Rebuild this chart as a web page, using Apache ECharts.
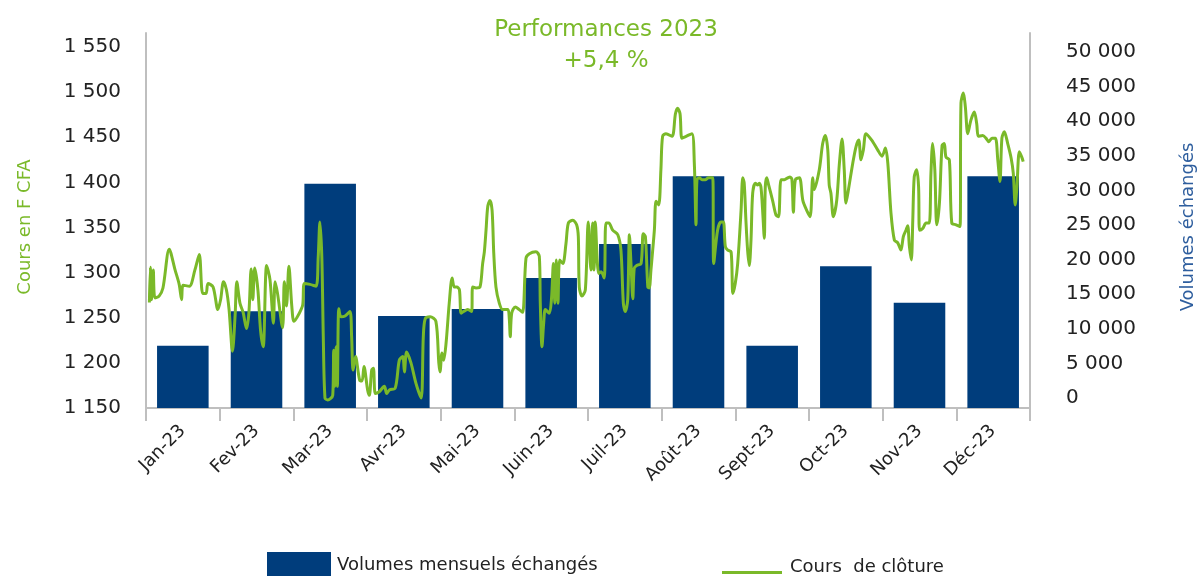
<!DOCTYPE html>
<html lang="fr">
<head>
<meta charset="utf-8">
<title>Performances 2023</title>
<script src="https://cdn.jsdelivr.net/npm/echarts@6/dist/echarts.min.js"></script>
<style>
  html, body { margin: 0; padding: 0; background: #ffffff; }
  #chart { width: 1204px; height: 576px; }
</style>
</head>
<body>
<div id="chart"></div>
<script>
// Mois de l'année (axe des catégories)
const mois = ['Jan-23', 'Fev-23', 'Mar-23', 'Avr-23', 'Mai-23', 'Juin-23',
              'Juil-23', 'Août-23', 'Sept-23', 'Oct-23', 'Nov-23', 'Déc-23'];

// Volumes mensuels échangés (titres)
const volumes = [9000, 14000, 32400, 13300, 14300, 18800,
                 23700, 33500, 9000, 20500, 15200, 33500];

// Graduations des deux axes verticaux
const ticksCours = [1150, 1200, 1250, 1300, 1350, 1400, 1450, 1500, 1550];
const ticksVolumes = [0, 5000, 10000, 15000, 20000, 25000, 30000, 35000, 40000, 45000, 50000];

// Cours de clôture : jour de l'année 2023 et cours en F CFA
const jours = [
  1.4, 1.8, 2.3, 3.0, 3.7, 5.4, 7.0, 9.6, 12.0, 13.7, 14.7, 15.3, 17.9, 20.2, 22.0, 23.4, 24.8, 25.6, 27.7, 29.7,
  30.8, 32.0, 33.2, 34.3, 35.7, 36.8, 37.5, 38.8, 40.1, 41.5, 42.5, 43.4, 44.1, 44.9, 46.2, 47.3, 48.4, 49.8, 51.2, 52.6, 53.3, 54.3, 56.4, 57.1, 58.0, 59.0, 60.2, 61.1,
  63.3, 64.7, 65.4, 67.7, 70.2, 71.1, 71.8, 72.6, 73.2, 73.9, 75.0, 77.1, 77.5, 78.0, 78.5, 79.0, 79.6, 80.5, 82.2, 84.2, 84.9, 85.5, 86.5, 88.2, 89.2, 90.0,
  91.5, 92.2, 93.2, 93.9, 94.7, 96.3, 98.4, 99.4, 100.5, 102.9, 104.6, 106.0, 106.7, 107.6, 109.4, 111.5, 113.6, 114.5, 115.3, 117.3, 119.7,
  120.9, 121.4, 122.2, 122.9, 123.9, 125.2, 126.4, 127.3, 128.3, 129.4, 130.1, 131.2, 132.8, 134.4, 134.9, 136.3, 137.9, 139.0, 139.7, 140.4, 141.1, 142.0, 142.9, 143.6, 144.5, 145.9, 147.3, 149.4, 150.0, 150.4, 151.0,
  152.5, 154.1, 155.5, 156.9, 158.3, 161.0, 162.4, 162.8, 163.5, 164.2, 164.9, 166.5, 167.4, 168.2, 168.8, 169.4, 170.1, 170.8, 172.1, 173.4, 174.4, 176.2, 177.8, 178.5, 178.9, 180.0, 181.4, 182.6,
  183.7, 184.4, 185.0, 185.5, 186.9, 187.9, 189.2, 189.9, 191.1, 192.7, 194.8, 196.1, 197.1, 197.9, 198.9, 199.6, 200.3, 201.0, 201.6, 202.6, 204.4, 205.3, 206.2, 207.2, 207.8, 208.5, 209.9, 210.6, 211.7, 212.6,
  213.3, 214.7, 217.2, 218.6, 219.5, 220.5, 221.3, 223.0, 225.4, 226.4, 227.1, 227.5, 228.5, 229.6, 230.9, 232.3, 234.0, 234.4, 236.0, 237.4, 238.4, 239.2, 240.2, 241.6, 242.3,
  243.3, 244.3, 245.7, 246.4, 247.0, 247.7, 248.4, 249.1, 249.8, 250.5, 251.6, 252.6, 253.2, 253.9, 254.6, 255.3, 255.7, 256.3, 257.1, 258.8, 260.1, 261.2, 262.2, 263.6, 265.0, 265.9, 266.7, 267.3, 268.1, 269.8, 271.2, 272.8,
  274.2, 275.3, 275.9, 278.0, 279.4, 280.5, 281.5, 282.1, 282.8, 283.8, 285.2, 286.3, 287.4, 288.3, 289.0, 290.1, 291.8, 293.2, 294.3, 295.2, 296.2, 297.3, 300.1, 302.1, 303.9,
  305.3, 306.3, 307.6, 309.0, 310.4, 311.7, 312.7, 313.8, 314.5, 315.2, 316.0, 316.6, 317.2, 318.2, 319.0, 319.4, 320.7, 322.1, 323.4, 324.1, 324.8, 325.7, 326.5, 327.6, 328.7, 329.6, 330.3, 331.7, 332.7, 334.5,
  336.1, 336.5, 337.5, 338.3, 339.3, 340.6, 342.0, 343.0, 343.7, 345.5, 346.8, 348.0, 349.3, 350.7, 351.7, 352.6, 353.4, 354.4, 355.8, 357.2, 358.1, 358.9, 359.6, 360.6, 361.6, 362.2
];
const cours = [
  1267, 1306, 1270, 1303, 1272, 1274, 1283, 1326, 1303, 1287, 1270, 1286, 1285, 1303, 1320, 1277, 1277, 1288, 1284, 1259,
  1270, 1290, 1281, 1259, 1213, 1253, 1290, 1266, 1256, 1238, 1256, 1304, 1270, 1305, 1281, 1236, 1218, 1308, 1292, 1244, 1290, 1277, 1239, 1290, 1263, 1307, 1263, 1246,
  1255, 1264, 1288, 1287, 1285, 1317, 1356, 1317, 1229, 1161, 1159, 1164, 1214, 1174, 1218, 1174, 1260, 1251, 1252, 1257, 1229, 1192, 1207, 1181, 1180, 1196,
  1170, 1164, 1192, 1194, 1166, 1168, 1174, 1166, 1170, 1172, 1203, 1207, 1190, 1212, 1200, 1177, 1161, 1229, 1249, 1251, 1246,
  1200, 1190, 1211, 1203, 1222, 1266, 1294, 1284, 1284, 1281, 1255, 1257, 1259, 1257, 1284, 1283, 1284, 1310, 1323, 1347, 1373, 1380, 1369, 1321, 1284, 1266, 1259, 1259, 1249, 1229, 1255,
  1262, 1259, 1256, 1316, 1321, 1323, 1318, 1266, 1218, 1244, 1259, 1255, 1270, 1310, 1266, 1314, 1266, 1314, 1310, 1332, 1355, 1358, 1353, 1340, 1284, 1274, 1281, 1356,
  1303, 1355, 1303, 1356, 1299, 1301, 1294, 1355, 1355, 1347, 1342, 1325, 1266, 1257, 1270, 1342, 1307, 1271, 1305, 1308, 1310, 1343, 1340, 1284, 1283, 1303, 1347, 1379, 1375, 1414,
  1451, 1454, 1451, 1476, 1482, 1476, 1449, 1451, 1454, 1421, 1353, 1403, 1405, 1403, 1403, 1405, 1405, 1310, 1347, 1356, 1356, 1329, 1325, 1323, 1277,
  1288, 1310, 1369, 1405, 1399, 1358, 1325, 1308, 1336, 1388, 1399, 1397, 1399, 1395, 1369, 1338, 1395, 1405, 1397, 1379, 1364, 1362, 1403, 1403, 1405, 1406, 1403, 1367, 1403, 1405, 1380, 1369,
  1362, 1405, 1392, 1414, 1443, 1452, 1436, 1397, 1388, 1362, 1380, 1421, 1448, 1414, 1377, 1393, 1421, 1440, 1447, 1425, 1436, 1454, 1445, 1436, 1429,
  1438, 1421, 1366, 1336, 1333, 1325, 1340, 1347, 1352, 1329, 1314, 1358, 1406, 1414, 1395, 1347, 1349, 1355, 1355, 1410, 1443, 1414, 1353, 1377, 1441, 1443, 1428, 1425, 1355, 1353,
  1351, 1488, 1499, 1484, 1454, 1469, 1478, 1465, 1451, 1452, 1449, 1445, 1449, 1449, 1425, 1401, 1449, 1456, 1443, 1427, 1410, 1375, 1395, 1434, 1428, 1423
];

const FONT = 'DejaVu Sans';
const VERT = '#7AB929';
const BLEU = '#003D7C';
const GRIS = '#BFBFBF';
const TEXTE = '#222222';

// 1550 -> "1 550"
function milliers(v) {
  return String(v).replace(/\B(?=(\d{3})+(?!\d))/g, ' ');
}

const chart = echarts.init(document.getElementById('chart'), null, { renderer: 'canvas' });

chart.setOption({
  animation: false,
  backgroundColor: '#ffffff',
  textStyle: { fontFamily: FONT },
  title: [
    {
      text: 'Performances 2023', left: 606, top: 19, textAlign: 'center', padding: 0,
      textStyle: { color: VERT, fontSize: 23, fontWeight: 'normal', fontFamily: FONT }
    },
    {
      text: '+5,4 %', left: 606, top: 50, textAlign: 'center', padding: 0,
      textStyle: { color: VERT, fontSize: 23, fontWeight: 'normal', fontFamily: FONT }
    }
  ],
  grid: { left: 146, right: 174, top: 33, bottom: 168, containLabel: false, outerBoundsMode: 'none' },
  legend: [
    {
      data: ['Volumes mensuels échangés'],
      left: 267, top: 552, padding: 0,
      itemWidth: 64, itemHeight: 26, icon: 'rect',
      selectedMode: false,
      textStyle: { color: TEXTE, fontSize: 18, fontFamily: FONT, padding: [0, 0, 0, 1] }
    },
    {
      // trait vert posé au bas de la zone de l'icône, sous le milieu du texte
      data: [{ name: 'Cours  de clôture', icon: 'path://M0,0M0,11L60,11L60,14L0,14Z' }],
      left: 722, top: 558, padding: 0,
      itemWidth: 60, itemHeight: 14,
      selectedMode: false,
      textStyle: { color: TEXTE, fontSize: 18, fontFamily: FONT, padding: [0, 0, 0, 3] }
    }
  ],
  xAxis: [
    {
      type: 'category',
      data: mois,
      boundaryGap: true,
      axisLine: { show: true, onZero: false, lineStyle: { color: GRIS, width: 2 } },
      axisTick: { show: true, length: 13, lineStyle: { color: GRIS, width: 2 } },
      axisLabel: { rotate: 45, interval: 0, fontSize: 18, color: TEXTE, margin: 20, fontFamily: FONT },
      splitLine: { show: false }
    },
    {
      type: 'value',
      min: 0, max: 365,
      show: false
    }
  ],
  yAxis: [
    {
      type: 'value',
      position: 'left',
      min: ticksCours[0],
      max: 1565.5,
      interval: ticksCours[1] - ticksCours[0],
      axisLine: { show: true, lineStyle: { color: GRIS, width: 2 } },
      axisTick: { show: false },
      splitLine: { show: false },
      axisLabel: {
        margin: 25, fontSize: 20, color: TEXTE, fontFamily: FONT,
        formatter: v => ticksCours.includes(v) ? milliers(v) : ''
      },
      name: 'Cours en F CFA',
      nameLocation: 'middle', nameRotate: 90, nameGap: 112,
      nameTextStyle: { color: VERT, fontSize: 18, fontFamily: FONT, padding: [0, 13, 0, 0] }
    },
    {
      type: 'value',
      position: 'right',
      min: ticksVolumes[0],
      max: 54200,
      interval: ticksVolumes[1] - ticksVolumes[0],
      axisLine: { show: true, lineStyle: { color: GRIS, width: 2 } },
      axisTick: { show: false },
      splitLine: { show: false },
      axisLabel: {
        margin: 36, fontSize: 20, color: TEXTE, fontFamily: FONT, verticalAlign: 'bottom',
        formatter: v => ticksVolumes.includes(v) ? milliers(v) : ''
      },
      name: 'Volumes échangés',
      nameLocation: 'middle', nameRotate: 90, nameGap: 149,
      nameTextStyle: { color: '#2E5E9E', fontSize: 18, fontFamily: FONT, padding: [0, 13, 0, 0] }
    }
  ],
  series: [
    {
      name: 'Volumes mensuels échangés',
      type: 'bar',
      xAxisIndex: 0, yAxisIndex: 1,
      data: volumes,
      barWidth: '70%',
      itemStyle: { color: BLEU },
      z: 2
    },
    {
      name: 'Cours  de clôture',
      type: 'line',
      xAxisIndex: 1, yAxisIndex: 0,
      data: jours.map((j, i) => [j, cours[i]]),
      symbol: 'none', showSymbol: false,
      smooth: 0.3,
      lineStyle: { color: VERT, width: 3 },
      itemStyle: { color: VERT },
      z: 3
    }
  ]
});
</script>
</body>
</html>
